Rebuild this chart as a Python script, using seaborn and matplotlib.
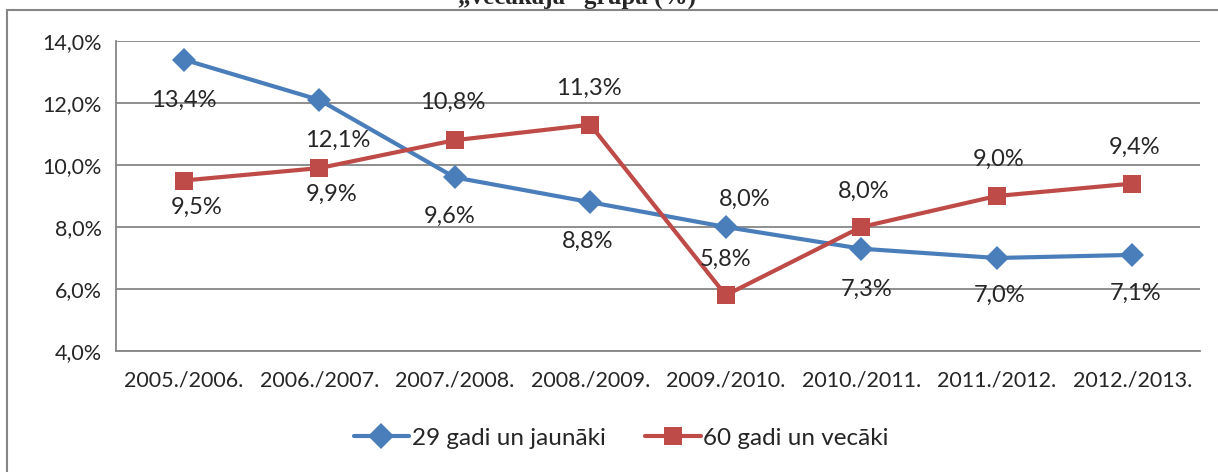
import pandas as pd
import matplotlib.pyplot as plt
import seaborn as sns
from matplotlib.patches import Rectangle

# data
gadi = ['2005./2006.', '2006./2007.', '2007./2008.', '2008./2009.',
        '2009./2010.', '2010./2011.', '2011./2012.', '2012./2013.']
jaunaki = [13.4, 12.1, 9.6, 8.8, 8.0, 7.3, 7.0, 7.1]
vecaki = [9.5, 9.9, 10.8, 11.3, 5.8, 8.0, 9.0, 9.4]
serijas = ['29 gadi un jaunāki', '60 gadi un vecāki']

# label offsets in pixels (dx, dy), dy positive = up
off_j = [(0, -41), (18, -40), (-5, -39), (-3, -39), (19, 28), (5, -41), (3, -37), (3, -38)]
off_v = [(13, -27), (12, -26), (-2, 38), (-1, 36), (0, 36), (2, 36), (2, 37), (2, 36)]

df = pd.DataFrame({
    'x': list(range(len(gadi))) * 2,
    'val': jaunaki + vecaki,
    'serija': [serijas[0]] * len(gadi) + [serijas[1]] * len(gadi),
})

sns.set_style('white')
plt.rcParams['font.family'] = ['Lato', 'DejaVu Sans']

zils = '#4A7EBB'
sarkans = '#BE4B48'
pel = '#868686'

fig = plt.figure(figsize=(12.18, 4.72), dpi=100)
ax = fig.add_axes([116 / 1218, 1 - 351 / 472, (1200 - 116) / 1218, (351 - 41) / 472])

sns.lineplot(data=df, x='x', y='val', hue='serija', style='serija',
             palette=[zils, sarkans], markers=['D', 's'], dashes=False,
             markersize=13.5, markeredgewidth=0, linewidth=3, ax=ax, legend=True)
# diamond a bit smaller
ax.lines[0].set_markersize(12)

ax.set_xlim(-0.5, len(gadi) - 0.5)
ax.set_ylim(4, 14)
ax.set_yticks([4, 6, 8, 10, 12, 14])
ax.set_yticklabels([f'{v:.1f}%'.replace('.', ',') for v in [4, 6, 8, 10, 12, 14]])
ax.set_xticks([i - 0.5 for i in range(len(gadi) + 1)])
ax.set_xticklabels([])
ax.set_xticks(range(len(gadi)), minor=True)
ax.set_xticklabels(gadi, minor=True)
ax.tick_params(axis='x', which='major', direction='out', length=6, color=pel, width=1.3)
ax.tick_params(axis='x', which='minor', length=0, labelsize=15.5, pad=14)
ax.tick_params(axis='y', direction='out', length=6, color=pel, width=1.3, labelsize=15.5, pad=4)
ax.set_xlabel('')
ax.set_ylabel('')
ax.grid(axis='y', color=pel, lw=1.3)
ax.set_axisbelow(True)
for s in ['top', 'right']:
    ax.spines[s].set_visible(False)
for s in ['left', 'bottom']:
    ax.spines[s].set_color(pel)
    ax.spines[s].set_linewidth(1.3)

for vals, offs in [(jaunaki, off_j), (vecaki, off_v)]:
    for i, (v, (dx, dy)) in enumerate(zip(vals, offs)):
        ax.annotate(f'{v:.1f}%'.replace('.', ','), (i, v), xytext=(dx * 0.72, dy * 0.72),
                    textcoords='offset points', ha='center', va='center', fontsize=17)

h, l = ax.get_legend_handles_labels()
ax.get_legend().remove()
fig.legend(h, l, loc='center', bbox_to_anchor=(621 / 1218, 1 - 438 / 472), ncol=2,
           frameon=False, fontsize=17.5, handlelength=2.3, handletextpad=0.1,
           columnspacing=1.6)

# outer chart frame
fig.patches.append(Rectangle((7 / 1218, -0.1), 1.2, 1.1 - 10 / 472, transform=fig.transFigure,
                             fill=False, edgecolor=pel, lw=1.5))
# title line above the frame, cut by the top edge like in the source image
fig.text(577 / 1218, 1 - 4 / 472, '„vecākajā” grupā (%)', ha='center', va='baseline',
         fontsize=18, fontweight='bold', family=['Liberation Serif', 'DejaVu Serif'])

fig.savefig('out.png', dpi=100)
